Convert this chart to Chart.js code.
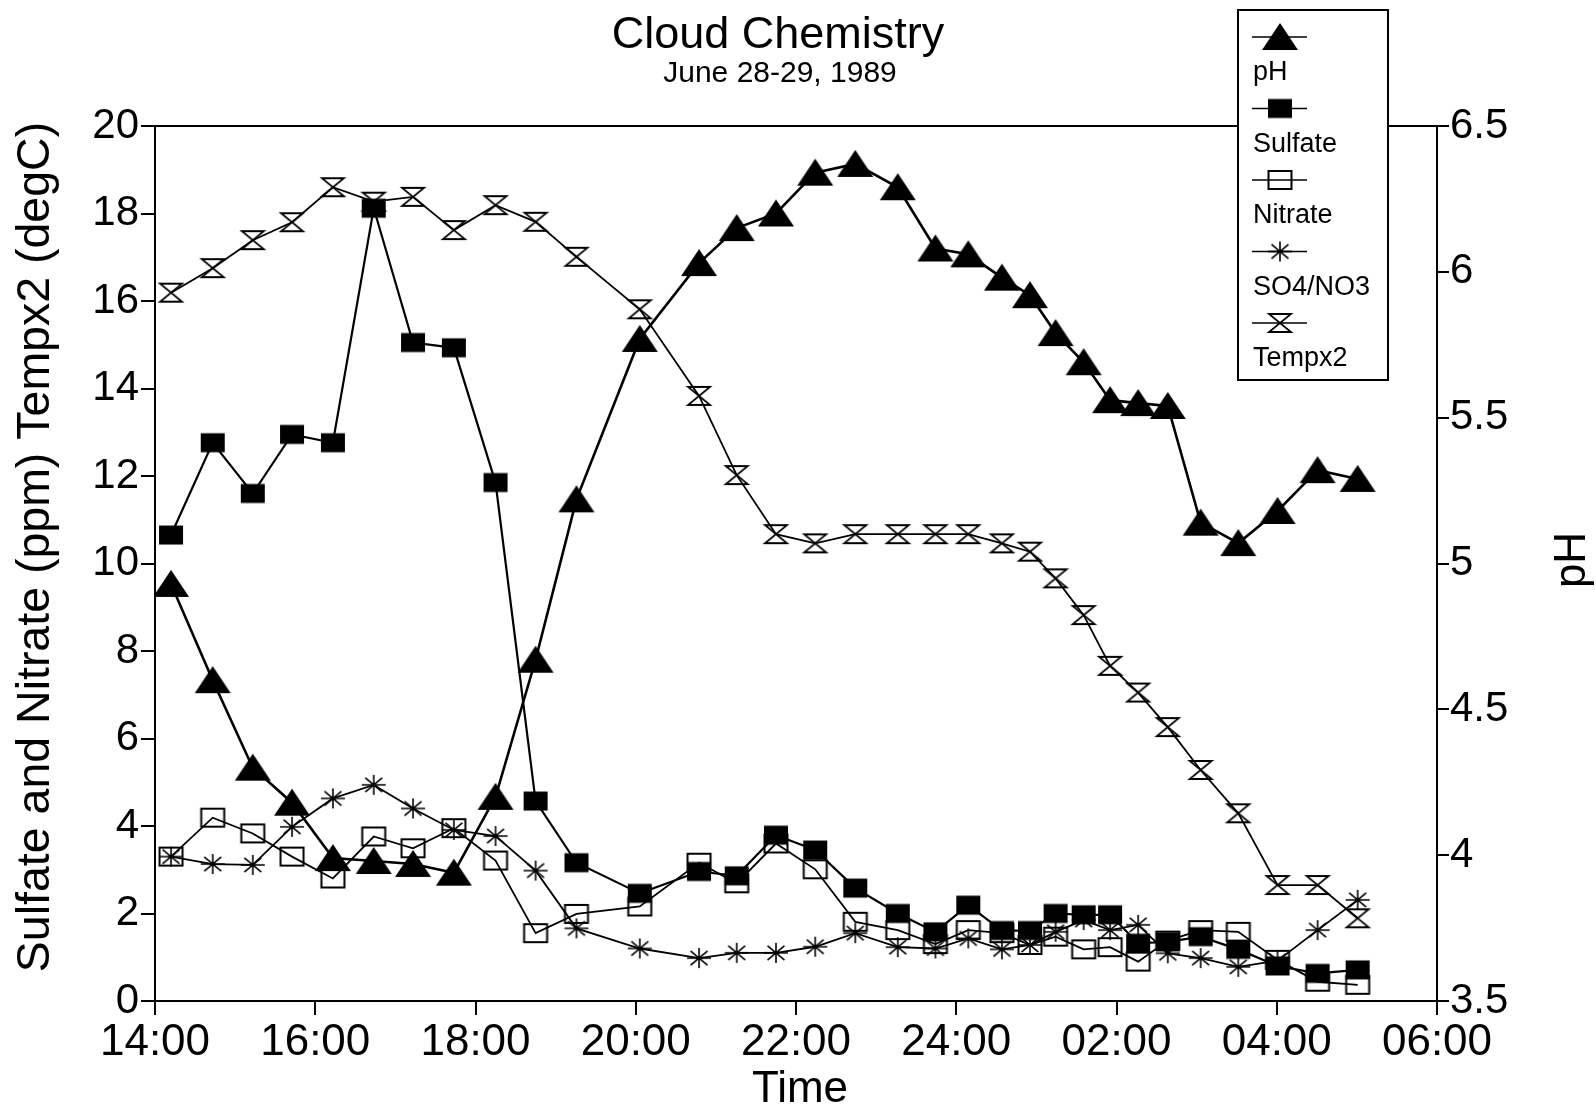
<!DOCTYPE html>
<html>
<head>
<meta charset="utf-8">
<title>Cloud Chemistry</title>
<script src="https://cdn.jsdelivr.net/npm/chart.js@4.4.1/dist/chart.umd.min.js"></script>
<style>
  html, body { margin: 0; padding: 0; background: #fff; }
  canvas { display: block; }
</style>
</head>
<body>
<canvas id="cloudChart" width="1596" height="1109"></canvas>
<script>
/* Cloud chemistry, June 28-29 1989 (Chart.js) */

const FONT = "'Liberation Sans', Arial, Helvetica, sans-serif";

// sample times, hours of day (24+ = next morning)
const sampleHours = [
  14.20, 14.72, 15.22, 15.71, 16.22, 16.73, 17.22, 17.73, 18.25, 18.75, 19.26, 20.05,
  20.79, 21.26, 21.75, 22.24, 22.74, 23.27, 23.74, 24.15, 24.57, 24.92, 25.24, 25.59,
  25.92, 26.27, 26.64, 27.05, 27.52, 28.01, 28.51, 29.01,
];
const xTickLabels = ['14:00', '16:00', '18:00', '20:00', '22:00', '24:00', '02:00', '04:00', '06:00'];

const pH = [
  4.93, 4.60, 4.30, 4.18, 3.99, 3.98, 3.97, 3.94, 4.20, 4.67, 5.22, 5.77,
  6.03, 6.15, 6.20, 6.34, 6.37, 6.29, 6.08, 6.06, 5.98, 5.92, 5.79, 5.69,
  5.56, 5.55, 5.54, 5.14, 5.07, 5.18, 5.32, 5.29,
];
const sulfate = [
  10.65, 12.76, 11.60, 12.95, 12.76, 18.12, 15.05, 14.93, 11.85, 4.57, 3.16, 2.46,
  2.96, 2.86, 3.79, 3.45, 2.58, 2.00, 1.58, 2.19, 1.61, 1.61, 2.00, 1.97,
  1.97, 1.32, 1.35, 1.47, 1.18, 0.80, 0.63, 0.71,
];
const nitrate = [
  3.30, 4.19, 3.83, 3.30, 2.80, 3.76, 3.49, 3.95, 3.21, 1.55, 1.99, 2.16,
  3.16, 2.69, 3.60, 3.01, 1.81, 1.62, 1.30, 1.62, 1.55, 1.28, 1.47, 1.18,
  1.23, 0.90, 1.38, 1.62, 1.58, 0.94, 0.44, 0.37,
];
const so4no3 = [
  3.30, 3.13, 3.11, 3.98, 4.63, 4.94, 4.40, 3.91, 3.77, 2.98, 1.66, 1.20,
  0.98, 1.10, 1.10, 1.24, 1.55, 1.23, 1.20, 1.43, 1.18, 1.28, 1.58, 1.85,
  1.62, 1.74, 1.09, 0.98, 0.78, 0.92, 1.62, 2.31,
];
const tempx2 = [
  16.19, 16.75, 17.39, 17.80, 18.60, 18.27, 18.38, 17.62, 18.19, 17.81, 17.01, 15.81,
  13.83, 12.02, 10.67, 10.46, 10.67, 10.67, 10.67, 10.67, 10.46, 10.27, 9.66, 8.82,
  7.66, 7.05, 6.26, 5.28, 4.29, 2.65, 2.65, 1.89,
];

const toPoints = vals => vals.map((v, i) => ({ x: sampleHours[i], y: v }));

// little canvases used as point styles
function makeMarker(kind) {
  const c = document.createElement('canvas');
  const w = kind === 'triangle' ? 38 : 28;
  const h = kind === 'triangle' ? 30 : 24;
  c.width = w; c.height = h;
  const g = c.getContext('2d');
  const cx = w / 2, cy = h / 2;
  g.fillStyle = '#000';
  g.strokeStyle = '#000';
  g.lineWidth = 2;
  if (kind === 'triangle') {
    g.beginPath();
    g.moveTo(cx, 1);
    g.lineTo(w - 1, h - 2);
    g.lineTo(1, h - 2);
    g.closePath();
    g.fill();
  } else if (kind === 'square') {
    g.fillRect(cx - 12, cy - 9.5, 24, 19);
  } else if (kind === 'openSquare') {
    g.strokeRect(cx - 11.5, cy - 9, 23, 18);
  } else if (kind === 'asterisk') {
    g.lineWidth = 1.6;
    g.beginPath();
    for (let k = 0; k < 4; k++) {
      const a = k * Math.PI / 4;
      g.moveTo(cx - 12 * Math.cos(a), cy - 10 * Math.sin(a));
      g.lineTo(cx + 12 * Math.cos(a), cy + 10 * Math.sin(a));
    }
    g.stroke();
  } else if (kind === 'hourglass') {
    g.lineWidth = 1.8;
    g.beginPath();
    g.moveTo(cx - 11, cy - 9); g.lineTo(cx + 11, cy - 9);
    g.lineTo(cx - 11, cy + 9); g.lineTo(cx + 11, cy + 9);
    g.closePath();
    g.stroke();
  }
  return c;
}

const series = (label, vals, marker, width, axis) => ({
  label,
  data: toPoints(vals),
  yAxisID: axis,
  borderColor: '#000',
  borderWidth: width,
  tension: 0,
  fill: false,
  pointStyle: makeMarker(marker),
  pointRadius: 10,
  pointHoverRadius: 10,
});

// titles and axis names
const chartText = {
  id: 'chartText',
  afterDraw(chart) {
    const { ctx, chartArea } = chart;
    ctx.save();
    ctx.fillStyle = '#000';
    ctx.textAlign = 'center';
    ctx.textBaseline = 'middle';
    ctx.font = `45px ${FONT}`;
    ctx.fillText('Cloud Chemistry', 778, 36);
    ctx.font = `30px ${FONT}`;
    ctx.fillText('June 28-29, 1989', 780, 74);
    ctx.font = `44px ${FONT}`;
    ctx.fillText('Time', 800, 1090);

    ctx.save();
    ctx.translate(36, 547);
    ctx.rotate(-Math.PI / 2);
    ctx.font = `46.5px ${FONT}`;
    ctx.fillText('Sulfate and Nitrate (ppm) Tempx2 (degC)', 0, 0);
    ctx.restore();

    ctx.save();
    ctx.translate(1573, 560);
    ctx.rotate(-Math.PI / 2);
    ctx.fillText('pH', 0, 0);
    ctx.restore();

    // top frame line
    ctx.strokeStyle = '#000';
    ctx.lineWidth = 2;
    ctx.beginPath();
    ctx.moveTo(chartArea.left, chartArea.top);
    ctx.lineTo(chartArea.right, chartArea.top);
    ctx.stroke();
    ctx.restore();
  },
};

// boxed legend: sample above each label
const boxLegend = {
  id: 'boxLegend',
  afterDraw(chart) {
    const { ctx } = chart;
    ctx.save();
    ctx.fillStyle = '#fff';
    ctx.fillRect(1238, 10, 150, 370);
    ctx.strokeStyle = '#000';
    ctx.lineWidth = 2;
    ctx.strokeRect(1238, 10, 150, 370);
    ctx.font = `27px ${FONT}`;
    ctx.textAlign = 'left';
    ctx.textBaseline = 'middle';
    chart.data.datasets.forEach((ds, i) => {
      const sy = 37 + i * 71.5;
      ctx.lineWidth = 1.5;
      ctx.beginPath();
      ctx.moveTo(1252, sy);
      ctx.lineTo(1307, sy);
      ctx.stroke();
      const m = ds.pointStyle;
      ctx.drawImage(m, 1280 - m.width / 2, sy - m.height / 2);
      ctx.fillStyle = '#000';
      ctx.fillText(ds.label, 1253, sy + 36);
    });
    ctx.restore();
  },
};

const axisLook = (tick) => ({
  grid: { drawOnChartArea: false, drawTicks: true, tickLength: tick, color: '#000', tickColor: '#000', lineWidth: 2 },
  border: { display: true, color: '#000', width: 2 },
});

new Chart(document.getElementById('cloudChart').getContext('2d'), {
  type: 'line',
  data: {
    datasets: [
      series('pH', pH, 'triangle', 2.6, 'yPH'),
      series('Sulfate', sulfate, 'square', 2.2, 'y'),
      series('Nitrate', nitrate, 'openSquare', 1.8, 'y'),
      series('SO4/NO3', so4no3, 'asterisk', 1.8, 'y'),
      series('Tempx2', tempx2, 'hourglass', 1.8, 'y'),
    ],
  },
  options: {
    responsive: false,
    animation: false,
    layout: { padding: { top: 126, left: 0, right: 0, bottom: 0 } },
    plugins: { legend: { display: false }, tooltip: { enabled: false } },
    scales: {
      x: {
        type: 'linear',
        min: 14,
        max: 30,
        ...axisLook(14),
        ticks: {
          stepSize: 2,
          padding: 1,
          color: '#000',
          font: { family: FONT, size: 44 },
          maxRotation: 0,
          callback: v => xTickLabels[(v - 14) / 2],
        },
        afterFit: s => { s.height = 108; },
      },
      y: {
        position: 'left',
        min: 0,
        max: 20,
        ...axisLook(14),
        ticks: { stepSize: 2, padding: 2, color: '#000', font: { family: FONT, size: 42 } },
        afterFit: s => { s.width = 155; },
      },
      yPH: {
        position: 'right',
        min: 3.5,
        max: 6.5,
        ...axisLook(12),
        ticks: {
          stepSize: 0.5,
          padding: 1,
          color: '#000',
          font: { family: FONT, size: 42 },
          callback: v => String(v),
        },
        afterFit: s => { s.width = 159; },
      },
    },
  },
  plugins: [chartText, boxLegend],
});
</script>
</body>
</html>
